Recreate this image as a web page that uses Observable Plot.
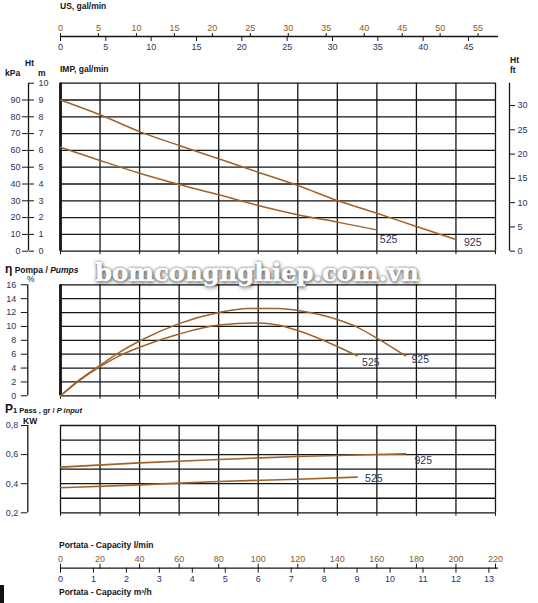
<!DOCTYPE html>
<html><head><meta charset="utf-8">
<script src="https://cdn.jsdelivr.net/npm/d3@7"></script>
<script src="https://cdn.jsdelivr.net/npm/@observablehq/plot@0.6"></script>
<style>
body{margin:0;background:#fff;}
#wrap{position:relative;width:538px;height:603px;overflow:hidden;font-family:"Liberation Sans",Arial,sans-serif;}
#wrap svg{position:absolute;left:0;top:0;}
.t{position:absolute;font-weight:bold;font-size:8.5px;color:#151515;white-space:nowrap;line-height:1;transform:translateY(-50%);}
.wm{position:absolute;left:95px;top:258px;font-family:"DejaVu Serif",serif;font-weight:bold;font-size:24.3px;color:#fff;
  text-shadow:0 0 3px rgba(0,0,0,.8),1px 2px 4px rgba(0,0,0,.6);-webkit-text-stroke:0.6px #fff;white-space:nowrap;}
svg.orange g[aria-label$="tick label"]{fill:#8a5a22;}
svg.navy g[aria-label$="tick label"]{fill:#2c3360;}
</style></head>
<body><div id="wrap"></div>
<script>
// ---- data ----
const usGalTicks = [0,5,10,15,20,25,30,35,40,45,50,55];
const impGalTicks = [0,5,10,15,20,25,30,35,40,45];
const lpmTicks = [0,20,40,60,80,100,120,140,160,180,200,220];
const m3hTicks = [0,1,2,3,4,5,6,7,8,9,10,11,12,13];
const kpaTicks = [0,10,20,30,40,50,60,70,80,90];
const headMTicks = [0,1,2,3,4,5,6,7,8,9,10];
const ftTicks = [0,5,10,15,20,25,30];
const effTicks = [0,2,4,6,8,10,12,14,16];
const kwTicks = [0.2,0.4,0.6,0.8];
const kwGrid = [0.2,0.3,0.4,0.5,0.6,0.7,0.8];

const LPM_PER_USGAL = 3.84;   // as drawn
const LPM_PER_IMPGAL = 4.585; // as drawn
const LPM_PER_M3H = 16.667;
const M_PER_FT = 0.289;       // as drawn on the ft scale

// Head (m) vs capacity (l/min)
const headCap925 = [0,20,40,60,80,100,120,140,160,180,200];
const head925    = [9.0,8.12,7.12,6.29,5.5,4.70,3.91,3.02,2.26,1.47,0.70];
const headCap525 = [0,20,40,60,80,100,120,140,160];
const head525    = [6.19,5.40,4.64,3.97,3.36,2.72,2.17,1.73,1.27];

// Efficiency (%)
const effCap925 = [0,10,20,30,40,60,80,95,110,120,140,150,160,174.5];
const eff925    = [0,2.4,4.4,6.3,7.9,10.4,12.0,12.6,12.6,12.3,11.0,9.9,8.3,5.75];
const effCap525 = [0,10,20,30,40,60,80,100,110,120,140,150];
const eff525    = [0,2.3,4.2,5.8,7.0,8.9,10.2,10.5,10.2,9.4,7.1,5.75];

// Input power (kW)
const pCap925 = [0,40,80,120,160,174.5];
const p925    = [0.514,0.543,0.566,0.587,0.601,0.605];
const pCap525 = [0,40,80,120,150];
const p525    = [0.372,0.392,0.415,0.431,0.445];

const AXIS_END = 221.5;
const W = 538, H = 603;
const CURVE = "#a0622b", GRID = "#151515", NAVY = "#2c3360";
const wrap = document.getElementById("wrap");
const font = {background:"transparent", fontFamily:"Liberation Sans, Arial, sans-serif", fontSize:"9px", overflow:"visible", color:"#151515"};

function layer(opts, cls){
  const p = Plot.plot({width:W, height:H, style:font, ...opts});
  if (cls) p.classList.add(cls);
  wrap.appendChild(p);
}
const pts = (xs, ys) => xs.map((x,i)=>({x, y:ys[i]}));

// ---- top axis: US / IMP gal/min ----
const AX_TOP = 36;
layer({marginLeft:60, marginRight:43, marginTop:AX_TOP, marginBottom:H-AX_TOP,
  x:{domain:[0,220], axis:"top", ticks:usGalTicks.map(v=>v*LPM_PER_USGAL), tickFormat:d=>Math.round(d/LPM_PER_USGAL), tickSize:4, tickPadding:2, label:null},
  y:{axis:null},
  marks:[Plot.ruleY([0],{x1:0, x2:AXIS_END, stroke:GRID, strokeWidth:1.3})]}, "orange");
layer({marginLeft:60, marginRight:43, marginTop:AX_TOP, marginBottom:H-AX_TOP,
  x:{domain:[0,220], axis:"bottom", ticks:impGalTicks.map(v=>v*LPM_PER_IMPGAL), tickFormat:d=>Math.round(d/LPM_PER_IMPGAL), tickSize:5, tickPadding:2, label:null},
  y:{axis:null}, marks:[]}, "navy");

// ---- bottom axis: l/min and m3/h ----
const AX_BOT = 567.7;
layer({marginLeft:60, marginRight:43, marginTop:AX_BOT, marginBottom:H-AX_BOT,
  x:{domain:[0,220], axis:"top", ticks:lpmTicks, tickSize:5, tickPadding:1.5, label:null},
  y:{axis:null},
  marks:[Plot.ruleY([0],{x1:0, x2:AXIS_END, stroke:GRID, strokeWidth:1.3})]}, "orange");
layer({marginLeft:60, marginRight:43, marginTop:AX_BOT, marginBottom:H-AX_BOT,
  x:{domain:[0,220], axis:"bottom", ticks:m3hTicks.map(v=>v*LPM_PER_M3H), tickFormat:d=>Math.round(d/LPM_PER_M3H), tickSize:5, tickPadding:2, label:null},
  y:{axis:null}, marks:[]}, "navy");

// ---- head panel ----
const HT = 82.7, HB = 250.7;
layer({marginLeft:60, marginRight:43, marginTop:HT, marginBottom:H-HB,
  x:{domain:[0,220], ticks:lpmTicks, tickSize:3.5, tickFormat:()=>"", label:null},
  y:{domain:[0,10], axis:null},
  marks:[
    Plot.ruleY(headMTicks,{stroke:GRID, strokeWidth:1.3}),
    Plot.ruleX(lpmTicks,{stroke:GRID, strokeWidth:1.3}),
    Plot.ruleX([0],{stroke:GRID, strokeWidth:2.8}),
    Plot.line(pts(headCap925, head925),{x:"x", y:"y", stroke:CURVE, strokeWidth:1.5, curve:"monotone-x"}),
    Plot.line(pts(headCap525, head525),{x:"x", y:"y", stroke:CURVE, strokeWidth:1.5, curve:"monotone-x"}),
    Plot.text([pts(headCap525, head525).at(-1)],{x:"x", y:"y", text:()=>"525", dx:3, dy:10, textAnchor:"start", fill:NAVY, fontSize:10.5}),
    Plot.text([pts(headCap925, head925).at(-1)],{x:"x", y:"y", text:()=>"925", dx:8, dy:3, textAnchor:"start", fill:NAVY, fontSize:10.5})
  ]});
// kPa axis (left ticks)
layer({marginLeft:28, marginRight:W-28, marginTop:HT, marginBottom:H-HB,
  x:{domain:[0,1], axis:null},
  y:{domain:[0,10], axis:"left", ticks:kpaTicks.map(k=>k/10), tickFormat:d=>Math.round(d*10), tickSize:6, tickPadding:2, label:null},
  marks:[Plot.ruleX([0],{y1:0, y2:10, stroke:GRID, strokeWidth:1.3})]}, "navy");
// m axis (right ticks)
layer({marginLeft:28, marginRight:W-28, marginTop:HT, marginBottom:H-HB,
  x:{domain:[0,1], axis:null},
  y:{domain:[0,10], axis:"right", ticks:headMTicks, tickSize:5, tickPadding:5, label:null},
  marks:[]}, "navy");
// ft axis
layer({marginLeft:509, marginRight:W-509, marginTop:HT, marginBottom:H-HB,
  x:{domain:[0,1], axis:null},
  y:{domain:[0,10], axis:"right", ticks:ftTicks.map(f=>f*M_PER_FT), tickFormat:d=>Math.round(d/M_PER_FT), tickSize:5, tickPadding:3, label:null},
  marks:[Plot.ruleX([0],{y1:0, y2:10, stroke:GRID, strokeWidth:1.3})]}, "navy");

// ---- efficiency panel ----
const ET = 284.3, EB = 395.3;
layer({marginLeft:60, marginRight:43, marginTop:ET, marginBottom:H-EB,
  x:{domain:[0,220], ticks:lpmTicks, tickSize:3.5, tickFormat:()=>"", label:null},
  y:{domain:[0,16], axis:null},
  marks:[
    Plot.ruleY(effTicks,{stroke:GRID, strokeWidth:1.3}),
    Plot.ruleX(lpmTicks,{stroke:GRID, strokeWidth:1.3}),
    Plot.ruleX([0],{stroke:GRID, strokeWidth:2.8}),
    Plot.line(pts(effCap925, eff925),{x:"x", y:"y", stroke:CURVE, strokeWidth:1.5, curve:"monotone-x"}),
    Plot.line(pts(effCap525, eff525),{x:"x", y:"y", stroke:CURVE, strokeWidth:1.5, curve:"monotone-x"}),
    Plot.text([pts(effCap525, eff525).at(-1)],{x:"x", y:"y", text:()=>"525", dx:5, dy:7, textAnchor:"start", fill:NAVY, fontSize:10.5}),
    Plot.text([pts(effCap925, eff925).at(-1)],{x:"x", y:"y", text:()=>"925", dx:6, dy:4, textAnchor:"start", fill:NAVY, fontSize:10.5})
  ]});
layer({marginLeft:27.3, marginRight:W-27.3, marginTop:ET, marginBottom:H-EB,
  x:{domain:[0,1], axis:null},
  y:{domain:[0,16], axis:"left", ticks:effTicks, tickSize:6.5, tickPadding:5, label:null},
  marks:[Plot.ruleX([0],{y1:0, y2:16, stroke:GRID, strokeWidth:1.3})]}, "navy");

// ---- power panel ----
const PT = 425, PB = 512.3;
layer({marginLeft:60, marginRight:43, marginTop:PT, marginBottom:H-PB,
  x:{domain:[0,220], ticks:lpmTicks, tickSize:3.5, tickFormat:()=>"", label:null},
  y:{domain:[0.2,0.8], axis:null},
  marks:[
    Plot.ruleY(kwGrid,{stroke:GRID, strokeWidth:1.3}),
    Plot.ruleX(lpmTicks,{stroke:GRID, strokeWidth:1.3}),
    Plot.line(pts(pCap925, p925),{x:"x", y:"y", stroke:CURVE, strokeWidth:1.6, curve:"monotone-x"}),
    Plot.line(pts(pCap525, p525),{x:"x", y:"y", stroke:CURVE, strokeWidth:1.6, curve:"monotone-x"}),
    Plot.text([pts(pCap925, p925).at(-1)],{x:"x", y:"y", text:()=>"925", dx:9, dy:7, textAnchor:"start", fill:NAVY, fontSize:10.5}),
    Plot.text([pts(pCap525, p525).at(-1)],{x:"x", y:"y", text:()=>"525", dx:8, dy:1, textAnchor:"start", fill:NAVY, fontSize:10.5})
  ]});
layer({marginLeft:27.3, marginRight:W-27.3, marginTop:PT, marginBottom:H-PB,
  x:{domain:[0,1], axis:null},
  y:{domain:[0.2,0.8], axis:"left", ticks:kwTicks, tickFormat:d=>d.toFixed(1).replace(".",","), tickSize:6.5, tickPadding:3, label:null},
  marks:[Plot.ruleX([0],{y1:0.2, y2:0.8, stroke:GRID, strokeWidth:1.3})]}, "navy");

// ---- texts ----
function t(html, x, y, extra){ const d=document.createElement("div"); d.className="t"; d.innerHTML=html; d.style.left=x+"px"; d.style.top=y+"px"; if(extra) Object.assign(d.style, extra); wrap.appendChild(d); }
t("US, gal/min", 60, 6);
t("IMP, gal/min", 60, 69);
t("Ht", 25, 63);
t("kPa", 5, 73);
t("m", 38, 73);
t("Ht", 510, 60);
t("ft", 510, 69.5);
t('<span style="font-size:12px">η</span> Pompa / <i>Pumps</i>', 5, 269);
t("%", 27, 279, {fontWeight:"normal"});
t('<span style="font-size:12px">P</span><span style="font-size:7.5px">1 Pass , gr / </span><i>P input</i>', 5, 409, {fontSize:"7.5px"});
t("KW", 23, 421);
t("Portata - Capacity l/min", 59, 545);
t("Portata - Capacity m³/h", 59, 592);
const wm = document.createElement("div"); wm.className="wm"; wm.textContent="bomcongnghiep.com.vn"; wrap.appendChild(wm);
const blk = document.createElement("div"); Object.assign(blk.style,{position:"absolute",left:"0px",top:"585px",width:"4px",height:"18px",background:"#111"}); wrap.appendChild(blk);
</script>
</body></html>
